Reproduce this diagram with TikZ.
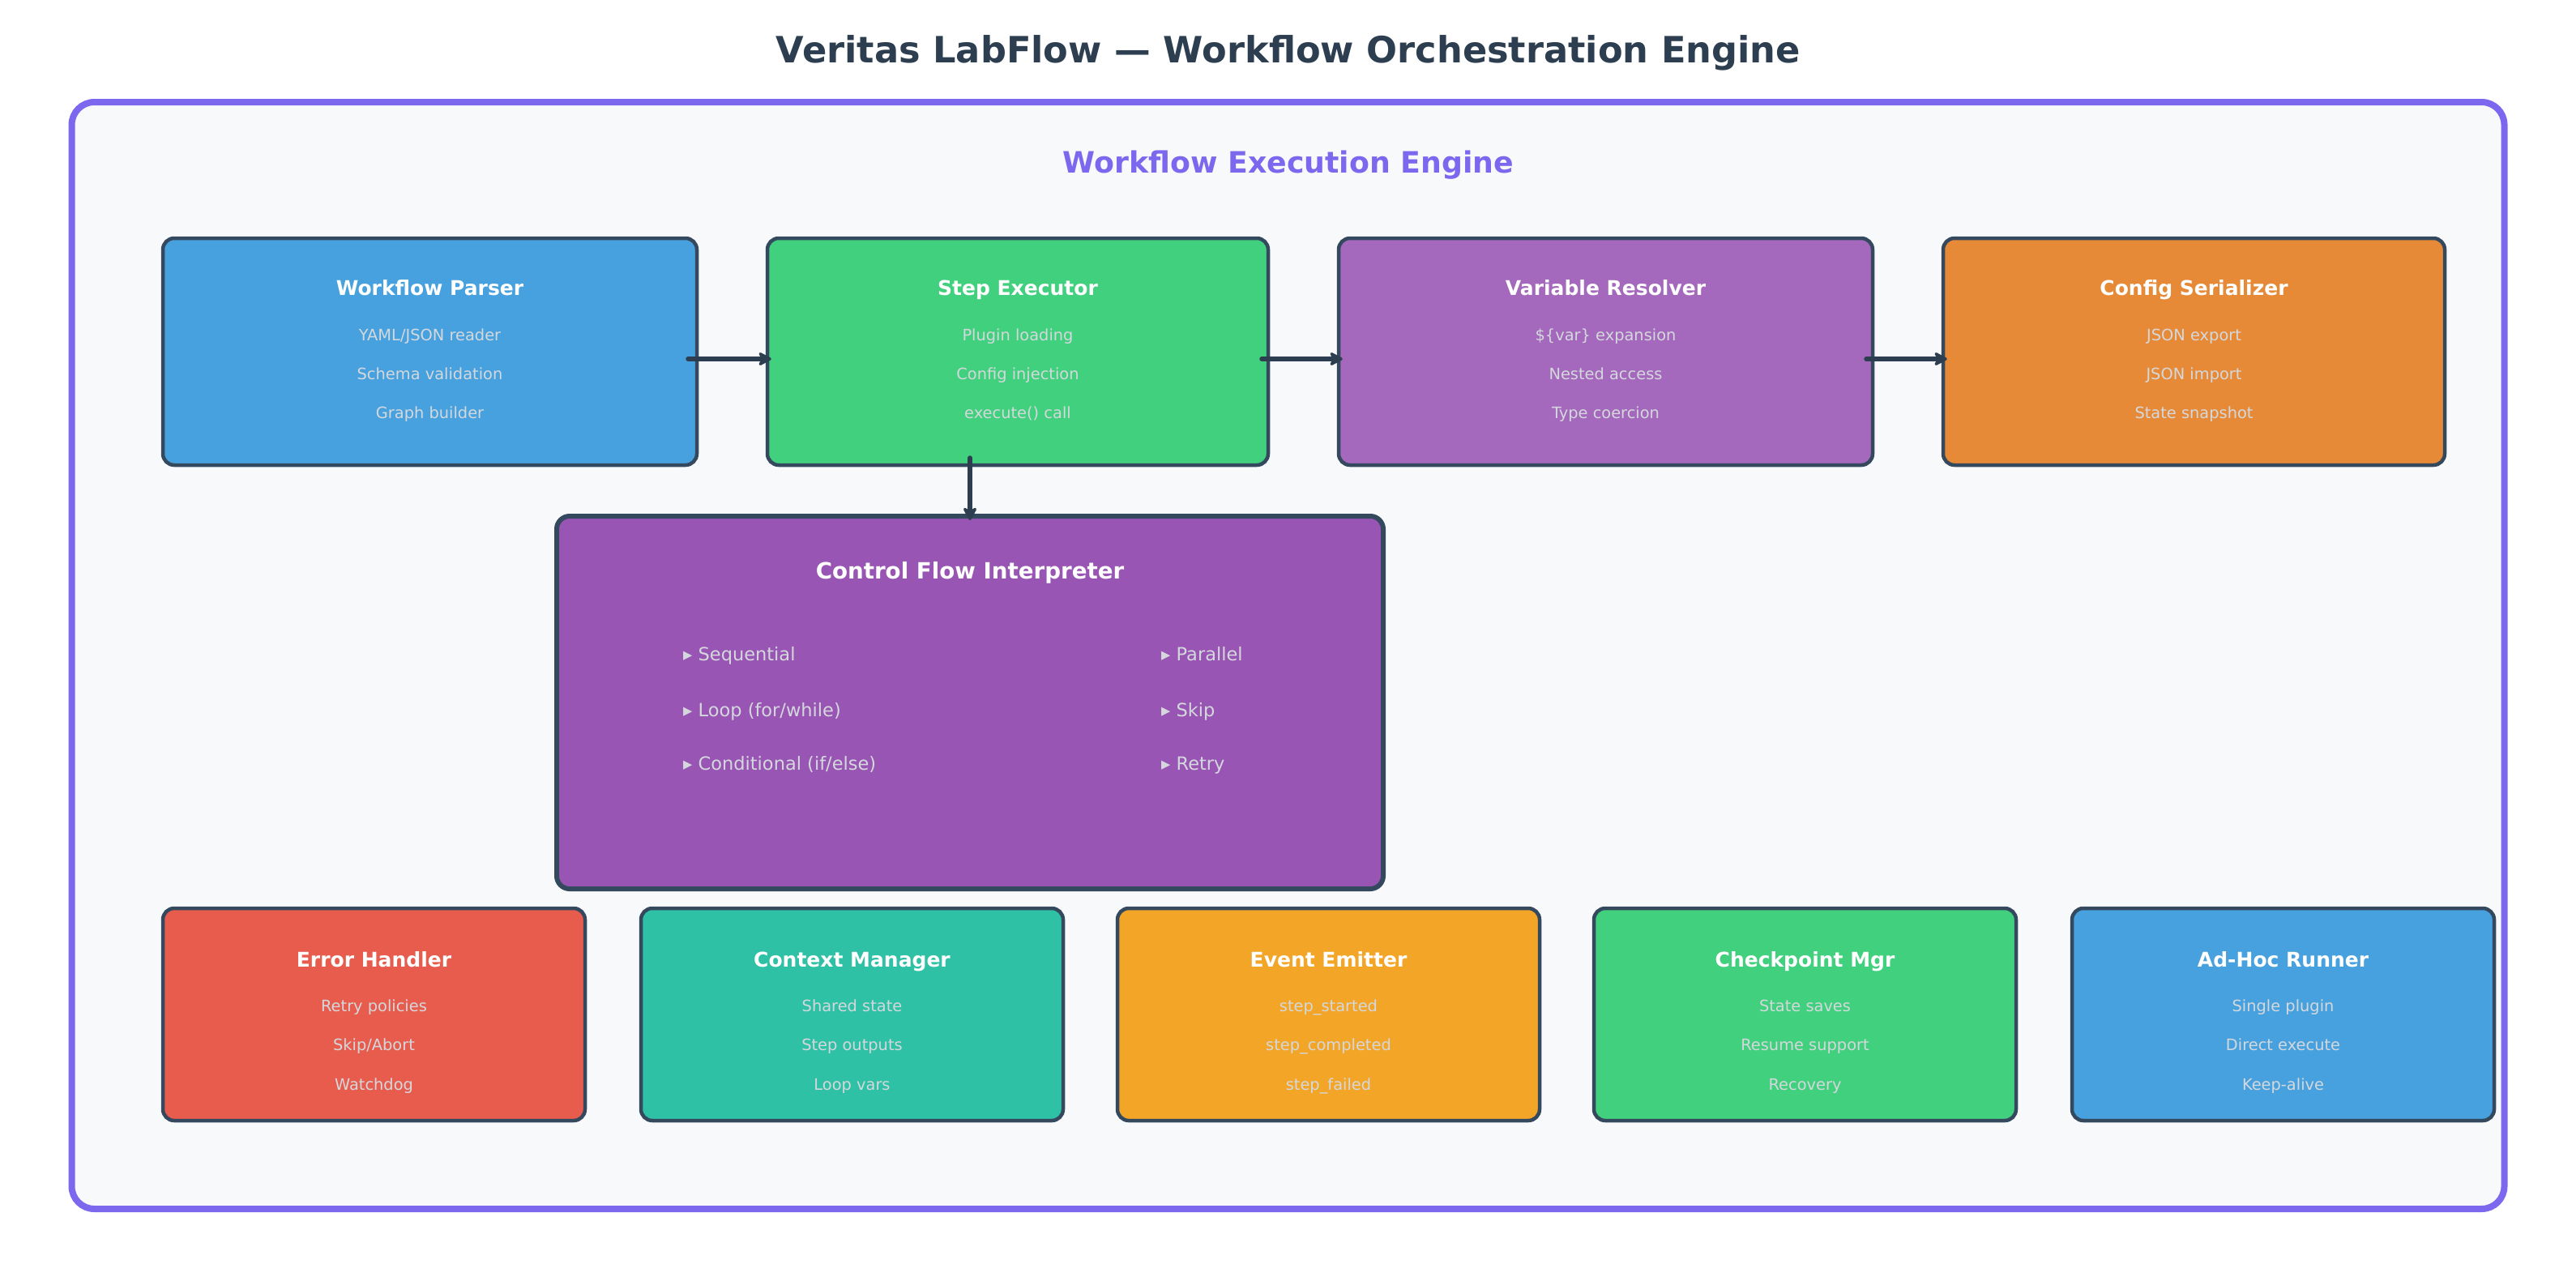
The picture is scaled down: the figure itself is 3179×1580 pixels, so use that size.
\documentclass[tikz,border=0pt]{standalone}
\usepackage{fontspec}
\setmainfont{DejaVu Sans}
\usetikzlibrary{arrows.meta,calc}
\definecolor{bg}{HTML}{F8F9FA}
\definecolor{frame}{HTML}{7B68EE}
\definecolor{dark}{HTML}{2C3E50}
\definecolor{edge}{HTML}{34495E}
\definecolor{sub}{HTML}{D4D8DC}
\definecolor{cblue}{HTML}{3498DB}
\definecolor{cgreen}{HTML}{2ECC71}
\definecolor{cpurple}{HTML}{9B59B6}
\definecolor{cdpurple}{HTML}{8E44AD}
\definecolor{corange}{HTML}{E67E22}
\definecolor{cred}{HTML}{E74C3C}
\definecolor{cteal}{HTML}{1ABC9C}
\definecolor{cyellow}{HTML}{F39C12}
\tikzset{
  compbox/.style={draw=edge, line width=4.5pt, rounded corners=14pt, fill opacity=0.9, draw opacity=1, inner sep=0pt},
  ttl/.style={text=white, font=\bfseries\fontsize{25}{30}\selectfont, inner sep=0pt, text height=18.25pt, text depth=0pt},
  subt/.style={text=sub, font=\fontsize{19.4}{23}\selectfont, inner sep=0pt, text height=14.2pt, text depth=0pt},
  item/.style={text=sub, font=\fontsize{22.5}{26}\selectfont, inner sep=0pt, anchor=west, text height=16.4pt, text depth=0pt},
  arr/.style={draw=dark, line width=6pt, line cap=round, -{Stealth[length=20pt,width=21pt,round]}},
}
\begin{document}
\begin{tikzpicture}[x=1pt,y=-1pt]
\useasboundingbox (0,0) rectangle (3179,1580);
\fill[white] (0,0) rectangle (3179,1580);
\node[text=dark, font=\bfseries\fontsize{44.7}{52}\selectfont, inner sep=0pt, text height=32.6pt, text depth=0pt] (title) at (1590,61) {Veritas LabFlow — Workflow Orchestration Engine};
\node[draw=frame, fill=bg, line width=8pt, rounded corners=28pt, minimum width=3002pt, minimum height=1366pt, inner sep=0pt] (engine) at (1589.5,809) {};
\node[text=frame, font=\bfseries\fontsize{36.3}{42}\selectfont, inner sep=0pt, text height=26.5pt, text depth=0pt] (enginelbl) at (1590,200) {Workflow Execution Engine};

% top row
\node[compbox, fill=cblue, minimum width=659pt, minimum height=280pt] (wp) at (530.5,434) {};
\node[compbox, fill=cgreen, minimum width=618pt, minimum height=280pt] (se) at (1256,434) {};
\node[compbox, fill=cpurple, minimum width=659pt, minimum height=280pt] (vr) at (1981.5,434) {};
\node[compbox, fill=corange, minimum width=619pt, minimum height=280pt] (cs) at (2707.5,434) {};

\node[ttl] (wpt) at (530.5,355) {Workflow Parser};
\node[subt] (wp1) at (530.5,413.5) {YAML/JSON reader};
\node[subt] (wp2) at (530.5,461) {Schema validation};
\node[subt] (wp3) at (530.5,509) {Graph builder};

\node[ttl] (set) at (1256,355) {Step Executor};
\node[subt] (se1) at (1256,413.5) {Plugin loading};
\node[subt] (se2) at (1256,461) {Config injection};
\node[subt] (se3) at (1256,509) {execute() call};

\node[ttl] (vrt) at (1981.5,355) {Variable Resolver};
\node[subt] (vr1) at (1981.5,413.5) {\$\{var\} expansion};
\node[subt] (vr2) at (1981.5,461) {Nested access};
\node[subt] (vr3) at (1981.5,509) {Type coercion};

\node[ttl] (cst) at (2707.5,355) {Config Serializer};
\node[subt] (cs1) at (2707.5,413.5) {JSON export};
\node[subt] (cs2) at (2707.5,461) {JSON import};
\node[subt] (cs3) at (2707.5,509) {State snapshot};

% control flow interpreter
\node[compbox, fill=cdpurple, line width=6pt, rounded corners=16pt, minimum width=1020pt, minimum height=460pt] (cfi) at (1197,867) {};
\node[ttl, font=\bfseries\fontsize{27.7}{32}\selectfont, text height=20.2pt] (cfit) at (1197,704) {Control Flow Interpreter};
\node[item] (c1) at (843,807) {▸ Sequential};
\node[item] (c2) at (843,876) {▸ Loop (for/while)};
\node[item] (c3) at (843,942) {▸ Conditional (if/else)};
\node[item] (c4) at (1433,807) {▸ Parallel};
\node[item] (c5) at (1433,876) {▸ Skip};
\node[item] (c6) at (1433,942) {▸ Retry};

% bottom row
\node[compbox, fill=cred, minimum width=521pt, minimum height=262pt] (eh) at (461.5,1252) {};
\node[compbox, fill=cteal, minimum width=521pt, minimum height=262pt] (cm) at (1051.5,1252) {};
\node[compbox, fill=cyellow, minimum width=521pt, minimum height=262pt] (ee) at (1639.5,1252) {};
\node[compbox, fill=cgreen, minimum width=521pt, minimum height=262pt] (cp) at (2227.5,1252) {};
\node[compbox, fill=cblue, minimum width=521pt, minimum height=262pt] (ah) at (2817.5,1252) {};

\node[ttl] (eht) at (461.5,1184) {Error Handler};
\node[subt] (eh1) at (461.5,1241) {Retry policies};
\node[subt] (eh2) at (461.5,1289) {Skip/Abort};
\node[subt] (eh3) at (461.5,1338) {Watchdog};

\node[ttl] (cmt) at (1051.5,1184) {Context Manager};
\node[subt] (cm1) at (1051.5,1241) {Shared state};
\node[subt] (cm2) at (1051.5,1289) {Step outputs};
\node[subt] (cm3) at (1051.5,1338) {Loop vars};

\node[ttl] (eet) at (1639.5,1184) {Event Emitter};
\node[subt] (ee1) at (1639.5,1241) {step\_started};
\node[subt] (ee2) at (1639.5,1289) {step\_completed};
\node[subt] (ee3) at (1639.5,1338) {step\_failed};

\node[ttl] (cpt) at (2227.5,1184) {Checkpoint Mgr};
\node[subt] (cp1) at (2227.5,1241) {State saves};
\node[subt] (cp2) at (2227.5,1289) {Resume support};
\node[subt] (cp3) at (2227.5,1338) {Recovery};

\node[ttl] (aht) at (2817.5,1184) {Ad-Hoc Runner};
\node[subt] (ah1) at (2817.5,1241) {Single plugin};
\node[subt] (ah2) at (2817.5,1289) {Direct execute};
\node[subt] (ah3) at (2817.5,1338) {Keep-alive};

% connectors
\draw[arr] ($(wp.east)+(-13,9)$) -- ($(se.west)+(7,9)$);
\draw[arr] ($(se.east)+(-10,9)$) -- ($(vr.west)+(7,9)$);
\draw[arr] ($(vr.east)+(-10,9)$) -- ($(cs.west)+(7,9)$);
\draw[arr] ($(cfi.north |- se.south)+(0,-11)$) -- ($(cfi.north)+(0,8)$);
\end{tikzpicture}
\end{document}
